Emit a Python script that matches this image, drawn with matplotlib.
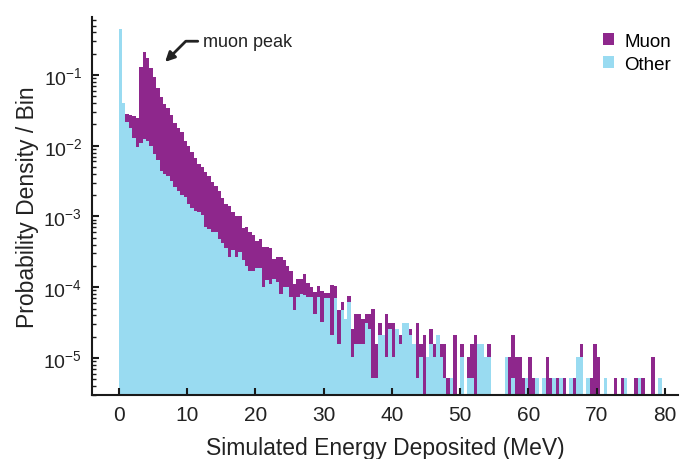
import numpy as np
import matplotlib
matplotlib.use("Agg")
import matplotlib.pyplot as plt
from matplotlib.patches import Patch
from matplotlib.ticker import LogLocator, FixedLocator, FuncFormatter, NullFormatter

plt.rcParams['font.family'] = ['Liberation Sans', 'DejaVu Sans']
plt.rcParams['mathtext.fontset'] = 'custom'
plt.rcParams['mathtext.rm'] = 'Liberation Sans'
plt.rcParams['mathtext.it'] = 'Liberation Sans:italic'

# ---- data: probability density per 0.5 MeV bin, 0..80 MeV ----
bin_edges_mev = np.arange(0, 80.5, 0.5)

muon = [
    0.029, 0.029, 0.028, 0.027, 0.026, 0.025, 0.128, 0.21, 0.172, 0.124,
    0.093, 0.066, 0.049, 0.039, 0.034, 0.027, 0.021, 0.018, 0.0155, 0.0118,
    0.0098, 0.0081, 0.0068, 0.0056, 0.0050, 0.0043, 0.0037, 0.0031, 0.0027, 0.0023,
    0.0018, 0.0015, 0.0014, 0.00114, 0.0010, 0.0010, 0.00068, 0.00070, 0.00060, 0.00055,
    0.00045, 0.00048, 0.00037, 0.00037, 0.00036, 0.00025, 0.00027, 0.00027, 0.00024, 0.00020,
    0.00017, 0.000112, 0.00013, 0.00013, 0.000154, 0.000115, 0.00010, 0.000085, 0.000104, 0.000089,
    8.3e-5, 8.3e-5, 1.07e-4, 1.03e-4, 4.7e-5, 6.2e-5, 3.6e-5, 7.6e-5, 2.6e-5, 4.2e-5,
    4.2e-5, 3.6e-5, 4.2e-5, 4.2e-5, 5.0e-5, 1.56e-5, 3.1e-5, 2.1e-5, 4.2e-5, 3.1e-5,
    3.1e-5, 2.6e-5, 2.1e-5, 3.1e-5, 3.1e-5, 2.6e-5, 1.56e-5, 3.1e-5, 1.56e-5, 2.1e-5,
    1.04e-5, 2.6e-5, 1.56e-5, 1.04e-5, 1.56e-5, 1.56e-5, 5.2e-6, 0, 2.1e-5, 0,
    1.56e-5, 0, 1.04e-5, 1.56e-5, 2.1e-5, 5.2e-6, 5.2e-6, 5.2e-6, 1.56e-5, 0,
    0, 0, 0, 0, 1.04e-5, 2.1e-5, 1.04e-5, 1.04e-5, 5.2e-6, 0,
    1.04e-5, 5.2e-6, 0, 0, 0, 1.04e-5, 5.2e-6, 0, 5.2e-6, 0,
    5.2e-6, 0, 0, 5.2e-6, 5.2e-6, 1.56e-5, 0, 0, 5.2e-6, 1.56e-5,
    1.04e-5, 0, 0, 0, 0, 5.2e-6, 0, 5.2e-6, 0, 0,
    0, 5.2e-6, 0, 5.2e-6, 0, 0, 1.04e-5, 0, 0, 0,
]

other = [
    0.45, 0.040, 0.022, 0.018, 0.013, 0.0095, 0.011, 0.0125, 0.0115, 0.010,
    0.0077, 0.0062, 0.0044, 0.0040, 0.0037, 0.0032, 0.0026, 0.0023, 0.0020, 0.0019,
    0.0015, 0.0013, 0.0012, 0.00115, 0.00105, 0.00072, 0.00066, 0.00061, 0.0006, 0.00048,
    0.00042, 0.00036, 0.00027, 0.00034, 0.00027, 0.00031, 0.00024, 0.00020, 0.00017, 0.00017,
    0.00019, 0.00019, 0.00010, 0.000125, 0.000112, 0.00013, 0.00012, 0.00008, 0.0001, 0.0001,
    7.2e-5, 4.7e-5, 7.2e-5, 8.0e-5, 7.8e-5, 7.2e-5, 7.2e-5, 4.2e-5, 7.2e-5, 3.2e-5,
    7.0e-5, 7.0e-5, 2.1e-5, 7.0e-5, 1.56e-5, 4.7e-5, 3.6e-5, 6.2e-5, 1.04e-5, 1.56e-5,
    1.56e-5, 1.56e-5, 3.1e-5, 2.6e-5, 5.2e-6, 5.2e-6, 2.1e-5, 2.1e-5, 1.04e-5, 2.6e-5,
    1.04e-5, 2.6e-5, 1.56e-5, 3.1e-5, 3.1e-5, 2.1e-5, 1.56e-5, 5.2e-6, 1.04e-5, 0,
    1.04e-5, 1.56e-5, 1.04e-5, 2.1e-5, 1.04e-5, 5.2e-6, 0, 5.2e-6, 0, 0,
    1.04e-5, 0, 5.2e-6, 5.2e-6, 0, 1.56e-5, 1.56e-5, 1.04e-5, 1.04e-5, 0,
    0, 0, 0, 1.04e-5, 0, 5.2e-6, 0, 0, 0, 5.2e-6,
    0, 0, 5.2e-6, 0, 5.2e-6, 0, 0, 5.2e-6, 0, 5.2e-6,
    0, 0, 5.2e-6, 0, 1.04e-5, 1.04e-5, 0, 5.2e-6, 0, 0,
    0, 0, 5.2e-6, 0, 0, 0, 0, 0, 5.2e-6, 0,
    0, 0, 5.2e-6, 0, 0, 0, 0, 0, 5.2e-6, 0,
]

series_labels = ["Muon", "Other"]
x_ticks = [0, 10, 20, 30, 40, 50, 60, 70, 80]
y_ticks = [1e-5, 1e-4, 1e-3, 1e-2, 1e-1]

PURPLE = '#8E278C'
BLUE = '#99DBF1'

fig = plt.figure(figsize=(6.8, 4.6), dpi=100)
ax = fig.add_axes([92 / 680, 1 - 396 / 460, (678 - 92) / 680, (396 - 18) / 460])

ax.set_yscale('log')
ax.stairs(muon, bin_edges_mev, fill=True, color=PURPLE, baseline=1e-9, lw=0)
ax.stairs(other, bin_edges_mev, fill=True, color=BLUE, baseline=1e-9, lw=0)

ax.set_xlim(-3.9, 81.9)
ax.set_ylim(3.0e-6, 0.66)

for s in ['top', 'right']:
    ax.spines[s].set_visible(False)
for s in ['left', 'bottom']:
    ax.spines[s].set_linewidth(1.5)
    ax.spines[s].set_color('#1a1a1a')

ax.xaxis.set_major_locator(FixedLocator(x_ticks))
ax.yaxis.set_major_locator(FixedLocator(y_ticks))
ax.yaxis.set_minor_locator(LogLocator(base=10, subs=np.arange(2, 10)))
ax.yaxis.set_minor_formatter(NullFormatter())

def fmt_pow(v, pos):
    e = int(round(np.log10(v)))
    return r'$\mathregular{10^{%d}}$' % e

ax.yaxis.set_major_formatter(FuncFormatter(fmt_pow))
ax.tick_params(axis='both', which='major', direction='in', length=5, width=1.5,
               color='#1a1a1a', labelsize=15, labelcolor='#222222')
ax.tick_params(axis='y', which='major', labelsize=14, pad=7)
ax.tick_params(axis='y', which='minor', direction='in', length=3, width=1, color='#1a1a1a')
ax.tick_params(axis='x', which='major', pad=7)

ax.set_xlabel('Simulated Energy Deposited (MeV)', fontsize=16.5, color='#222222', labelpad=8.5)
ax.set_ylabel('Probability Density / Bin', fontsize=16.5, color='#222222', labelpad=3)

ax.annotate('muon peak', xy=(6.8, 0.153), xytext=(12.4, 0.30),
            fontsize=13, ha='left', va='center', color='#222222',
            arrowprops=dict(arrowstyle='-|>', color='#222222', lw=2,
                            mutation_scale=14, shrinkA=2, shrinkB=0,
                            relpos=(0, 0.5),
                            connectionstyle='angle,angleA=180,angleB=45,rad=0'))

handles = [Patch(facecolor=PURPLE, edgecolor='none'), Patch(facecolor=BLUE, edgecolor='none')]
fig.legend(handles, series_labels, loc='upper left', bbox_to_anchor=(603 / 680, 1 - 34 / 460),
           frameon=False, fontsize=13.5, handlelength=0.6, handleheight=0.6,
           handletextpad=0.55, labelspacing=0.3, borderpad=0, borderaxespad=0)

fig.savefig('out.png', dpi=100)
